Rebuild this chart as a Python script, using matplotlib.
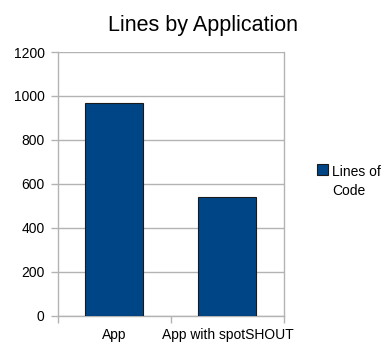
import matplotlib
matplotlib.use("Agg")
import matplotlib.pyplot as plt
from matplotlib.patches import Rectangle

categories = ["App", "App with spotSHOUT"]
values = [970, 540]
series_name = "Lines of\nCode"
yticks = [0, 200, 400, 600, 800, 1000, 1200]

plt.rcParams['font.family'] = ['Liberation Sans', 'DejaVu Sans']

W, H = 384, 350
fig = plt.figure(figsize=(W / 100, H / 100), dpi=100)
ax = fig.add_axes([57.5/W, 34.3/H, (284-57.5)/W, (315.7-52)/H])

bar_color = "#004586"
edge_color = "#1a1a1a"
grid_color = "#b3b3b3"

x = list(range(len(categories)))
ax.bar(x, values, width=0.51, color=bar_color, edgecolor=edge_color, linewidth=0.8, zorder=3)

ax.set_xlim(-0.5, len(categories) - 0.5)
ax.set_ylim(0, 1200)
ax.set_yticks(yticks)
ax.set_yticklabels([str(t) for t in yticks], fontsize=10)
ax.yaxis.grid(True, color=grid_color, linewidth=1.0, zorder=0)
ax.set_axisbelow(True)

ax.set_xticks(x)
ax.set_xticklabels(categories, fontsize=10)
ax.set_xticks([i - 0.5 for i in range(len(categories) + 1)], minor=True)
ax.tick_params(axis='x', which='major', length=0, pad=9)
ax.tick_params(axis='x', which='minor', length=5.3, color=grid_color, width=1.0)
ax.tick_params(axis='y', length=5.3, color=grid_color, width=1.0, pad=4)

for side in ["left", "bottom", "right"]:
    ax.spines[side].set_color(grid_color)
    ax.spines[side].set_linewidth(1.0)
ax.spines["top"].set_visible(False)

fig.text(203/W, 1 - 30.7/H, "Lines by Application", ha="center", va="baseline", fontsize=15.5)

# legend (single series)
fig.patches.append(Rectangle((317.3/W, 1 - 175.3/H), 10.4/W, 11.3/H, transform=fig.transFigure,
                             facecolor=bar_color, edgecolor=edge_color, linewidth=0.8))
fig.text(332.5/W, 1 - 176.3/H, series_name.split("\n")[0], ha="left", va="baseline", fontsize=10)
fig.text(332.5/W, 1 - 195/H, series_name.split("\n")[1], ha="left", va="baseline", fontsize=10)

fig.savefig("out.png", dpi=100)
